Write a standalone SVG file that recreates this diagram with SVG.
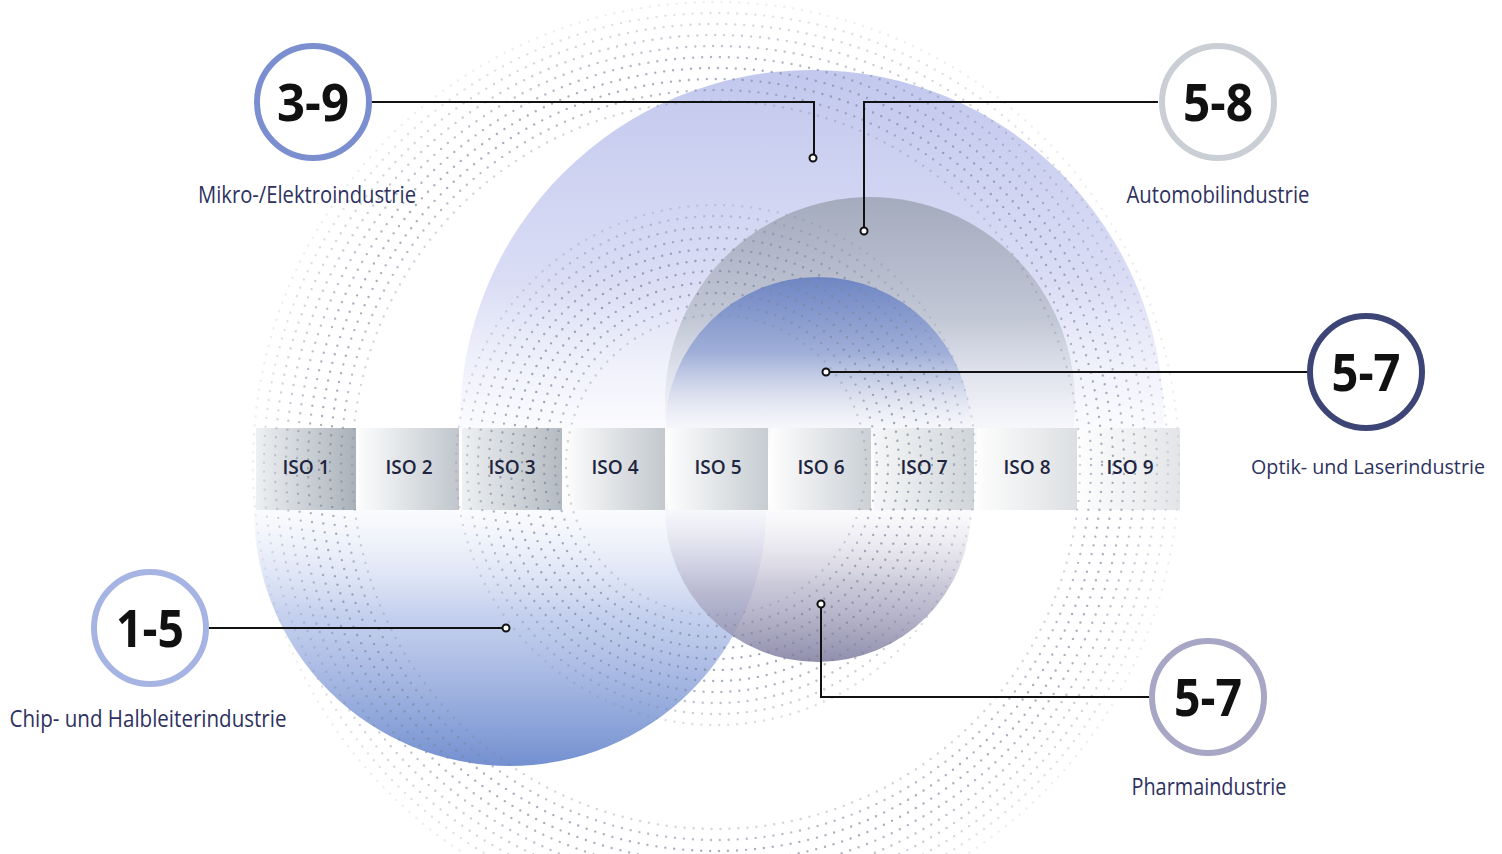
<svg xmlns="http://www.w3.org/2000/svg" width="1502" height="854" viewBox="0 0 1502 854">
<style>
.badge{fill:#fff;stroke-width:6}
.num{font-family:"Liberation Sans Narrow","Open Sans","Liberation Sans",sans-serif;font-weight:700;font-size:52px;fill:#111;text-anchor:middle}
.lbl{font-family:"Liberation Sans Narrow","Open Sans","Liberation Sans",sans-serif;font-size:23px;fill:#2e3160;text-anchor:middle}
.iso{font-family:"Open Sans","Liberation Sans",sans-serif;font-weight:600;font-size:19px;fill:#1d2540;text-anchor:middle}
.ring{fill:none;stroke:#7a849a;stroke-width:2.4;stroke-linecap:round;stroke-dasharray:0 9}
.conn{fill:none;stroke:#111;stroke-width:2}
.pin{fill:#fff;stroke:#111;stroke-width:2}
</style>
<defs>
<linearGradient id="gBig" gradientUnits="userSpaceOnUse" x1="0" y1="70" x2="0" y2="774">
<stop offset="0" stop-color="#c2c8ee"/>
<stop offset="0.3" stop-color="#d0d4f2" stop-opacity="0.8"/>
<stop offset="0.56" stop-color="#e8eaf9" stop-opacity="0"/>
</linearGradient>
<linearGradient id="gChip" gradientUnits="userSpaceOnUse" x1="0" y1="254" x2="0" y2="766">
<stop offset="0.46" stop-color="#e2e8f7" stop-opacity="0"/>
<stop offset="0.7" stop-color="#b8c6ea" stop-opacity="0.8"/>
<stop offset="1" stop-color="#7390d0"/>
</linearGradient>
<linearGradient id="gAuto" gradientUnits="userSpaceOnUse" x1="0" y1="197" x2="0" y2="607">
<stop offset="0" stop-color="#a4abbd"/>
<stop offset="0.3" stop-color="#bac0cd" stop-opacity="0.8"/>
<stop offset="0.62" stop-color="#e6e8ee" stop-opacity="0"/>
</linearGradient>
<linearGradient id="gOpt" gradientUnits="userSpaceOnUse" x1="0" y1="277" x2="0" y2="583">
<stop offset="0" stop-color="#6f86c4"/>
<stop offset="0.25" stop-color="#93a5d6" stop-opacity="0.8"/>
<stop offset="0.5" stop-color="#e6ebf6" stop-opacity="0"/>
</linearGradient>
<linearGradient id="gPh" gradientUnits="userSpaceOnUse" x1="0" y1="356" x2="0" y2="662">
<stop offset="0.45" stop-color="#e8e6ef" stop-opacity="0"/>
<stop offset="0.75" stop-color="#b3b1c8" stop-opacity="0.7"/>
<stop offset="1" stop-color="#8a88a8" stop-opacity="0.95"/>
</linearGradient>
<linearGradient id="b1" x1="0" y1="0" x2="1" y2="0"><stop offset="0" stop-color="#eef0f2"/><stop offset="1" stop-color="#a9b1b9"/></linearGradient>
<linearGradient id="b2" x1="0" y1="0" x2="1" y2="0"><stop offset="0" stop-color="#fbfcfc"/><stop offset="1" stop-color="#c0c6cc"/></linearGradient>
<linearGradient id="b3" x1="0" y1="0" x2="1" y2="0"><stop offset="0" stop-color="#eef0f2"/><stop offset="1" stop-color="#b3bac1"/></linearGradient>
<linearGradient id="b4" x1="0" y1="0" x2="1" y2="0"><stop offset="0" stop-color="#fdfdfd"/><stop offset="1" stop-color="#c2c8cd"/></linearGradient>
<linearGradient id="b5" x1="0" y1="0" x2="1" y2="0"><stop offset="0" stop-color="#fdfdfd"/><stop offset="1" stop-color="#c6ccd1"/></linearGradient>
<linearGradient id="b6" x1="0" y1="0" x2="1" y2="0"><stop offset="0" stop-color="#fdfdfd"/><stop offset="1" stop-color="#cbd0d5"/></linearGradient>
<linearGradient id="b7" x1="0" y1="0" x2="1" y2="0"><stop offset="0" stop-color="#f5f6f7"/><stop offset="1" stop-color="#d0d5d9"/></linearGradient>
<linearGradient id="b8" x1="0" y1="0" x2="1" y2="0"><stop offset="0" stop-color="#fdfdfd"/><stop offset="1" stop-color="#dcdfe2"/></linearGradient>
<linearGradient id="b9" x1="0" y1="0" x2="1" y2="0"><stop offset="0" stop-color="#fdfdfd"/><stop offset="1" stop-color="#e3e5e8"/></linearGradient>
</defs>
<rect width="1502" height="854" fill="#fff"/>

<g id="circles">
<circle id="c-mikro" cx="812" cy="422" r="352" fill="url(#gBig)"/>
<circle id="c-chip" cx="510" cy="510" r="256" fill="url(#gChip)"/>
<circle id="c-auto" cx="870" cy="402" r="205" fill="url(#gAuto)"/>
<circle id="c-optik" cx="818" cy="430" r="153" fill="url(#gOpt)"/>
<circle id="c-pharma" cx="818" cy="509" r="153" fill="url(#gPh)"/>
</g>

<g id="iso-bar">
<rect x="256" y="428" width="100" height="82" fill="url(#b1)"/>
<rect x="359" y="428" width="100" height="82" fill="url(#b2)"/>
<rect x="462" y="428" width="100" height="82" fill="url(#b3)"/>
<rect x="565" y="428" width="100" height="82" fill="url(#b4)"/>
<rect x="668" y="428" width="100" height="82" fill="url(#b5)"/>
<rect x="771" y="428" width="100" height="82" fill="url(#b6)"/>
<rect x="874" y="428" width="100" height="82" fill="url(#b7)"/>
<rect x="977" y="428" width="100" height="82" fill="url(#b8)"/>
<rect x="1080" y="428" width="100" height="82" fill="url(#b9)"/>
</g>

<g id="dot-rings">
<circle class="ring" cx="716" cy="465" r="150" opacity="0.35"/>
<circle class="ring" cx="716" cy="465" r="161" opacity="0.55"/>
<circle class="ring" cx="716" cy="465" r="172" opacity="0.65"/>
<circle class="ring" cx="716" cy="465" r="183" opacity="0.7"/>
<circle class="ring" cx="716" cy="465" r="194" opacity="0.7"/>
<circle class="ring" cx="716" cy="465" r="205" opacity="0.7"/>
<circle class="ring" cx="716" cy="465" r="216" opacity="0.65"/>
<circle class="ring" cx="716" cy="465" r="227" opacity="0.6"/>
<circle class="ring" cx="716" cy="465" r="238" opacity="0.5"/>
<circle class="ring" cx="716" cy="465" r="249" opacity="0.4"/>
<circle class="ring" cx="716" cy="465" r="260" opacity="0.28"/>
<circle class="ring" cx="716" cy="465" r="364" opacity="0.35"/>
<circle class="ring" cx="716" cy="465" r="375" opacity="0.55"/>
<circle class="ring" cx="716" cy="465" r="386" opacity="0.65"/>
<circle class="ring" cx="716" cy="465" r="397" opacity="0.65"/>
<circle class="ring" cx="716" cy="465" r="408" opacity="0.6"/>
<circle class="ring" cx="716" cy="465" r="419" opacity="0.5"/>
<circle class="ring" cx="716" cy="465" r="430" opacity="0.42"/>
<circle class="ring" cx="716" cy="465" r="441" opacity="0.34"/>
<circle class="ring" cx="716" cy="465" r="452" opacity="0.25"/>
<circle class="ring" cx="716" cy="465" r="463" opacity="0.15"/>
</g>

<g id="iso-labels">
<text class="iso" x="306" y="474">ISO 1</text>
<text class="iso" x="409" y="474">ISO 2</text>
<text class="iso" x="512" y="474">ISO 3</text>
<text class="iso" x="615" y="474">ISO 4</text>
<text class="iso" x="718" y="474">ISO 5</text>
<text class="iso" x="821" y="474">ISO 6</text>
<text class="iso" x="924" y="474">ISO 7</text>
<text class="iso" x="1027" y="474">ISO 8</text>
<text class="iso" x="1130" y="474">ISO 9</text>
</g>

<g id="connectors">
<polyline class="conn" points="372,102 814,102 814,158"/>
<polyline class="conn" points="1158,102 864,102 864,231"/>
<polyline class="conn" points="1308,372 826,372"/>
<polyline class="conn" points="209,628 506,628"/>
<polyline class="conn" points="1150,697 821,697 821,604"/>
<circle class="pin" cx="813" cy="158" r="3.5"/>
<circle class="pin" cx="864" cy="231" r="3.5"/>
<circle class="pin" cx="826" cy="372" r="3.5"/>
<circle class="pin" cx="506" cy="628" r="3.5"/>
<circle class="pin" cx="821" cy="604" r="3.5"/>
</g>

<g id="node-mikro">
<circle class="badge" cx="313" cy="102" r="56" stroke="#7b8fd0"/>
<text class="num" x="313" y="121" textLength="72" lengthAdjust="spacingAndGlyphs">3-9</text>
<text class="lbl" x="307" y="203" textLength="218" lengthAdjust="spacingAndGlyphs">Mikro-/Elektroindustrie</text>
</g>
<g id="node-auto">
<circle class="badge" cx="1218" cy="102" r="56" stroke="#c9cfd5"/>
<text class="num" x="1218" y="121" textLength="70" lengthAdjust="spacingAndGlyphs">5-8</text>
<text class="lbl" x="1218" y="203" textLength="183" lengthAdjust="spacingAndGlyphs">Automobilindustrie</text>
</g>
<g id="node-optik">
<circle class="badge" cx="1366" cy="372" r="56" stroke="#3d4577"/>
<text class="num" x="1366" y="391" textLength="69" lengthAdjust="spacingAndGlyphs">5-7</text>
<text class="lbl" x="1368" y="474" style="font-size:20.5px" textLength="234" lengthAdjust="spacingAndGlyphs">Optik- und Laserindustrie</text>
</g>
<g id="node-chip">
<circle class="badge" cx="150" cy="628" r="56" stroke="#a6b4e3"/>
<text class="num" x="150" y="647" textLength="68" lengthAdjust="spacingAndGlyphs">1-5</text>
<text class="lbl" x="148" y="727" textLength="277" lengthAdjust="spacingAndGlyphs">Chip- und Halbleiterindustrie</text>
</g>
<g id="node-pharma">
<circle class="badge" cx="1208" cy="697" r="56" stroke="#a7a6c4"/>
<text class="num" x="1208" y="716" textLength="68" lengthAdjust="spacingAndGlyphs">5-7</text>
<text class="lbl" x="1209" y="795" textLength="155" lengthAdjust="spacingAndGlyphs">Pharmaindustrie</text>
</g>
</svg>
